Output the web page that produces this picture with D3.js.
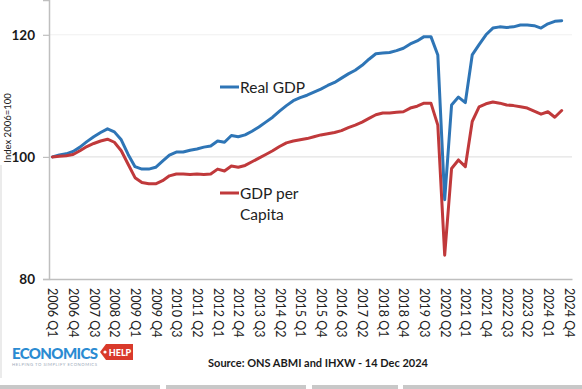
<!DOCTYPE html>
<html>
<head>
<meta charset="utf-8">
<script src="https://cdn.jsdelivr.net/npm/d3@7"></script>
<style>
  html, body { margin: 0; padding: 0; background: #ffffff; }
  svg { display: block; }
</style>
</head>
<body>
<svg id="chart" width="582" height="389"></svg>
<script>
// ---------- DATA ----------
const quarters = [
  "2006 Q1","2006 Q2","2006 Q3","2006 Q4","2007 Q1","2007 Q2","2007 Q3","2007 Q4",
  "2008 Q1","2008 Q2","2008 Q3","2008 Q4","2009 Q1","2009 Q2","2009 Q3","2009 Q4",
  "2010 Q1","2010 Q2","2010 Q3","2010 Q4","2011 Q1","2011 Q2","2011 Q3","2011 Q4",
  "2012 Q1","2012 Q2","2012 Q3","2012 Q4","2013 Q1","2013 Q2","2013 Q3","2013 Q4",
  "2014 Q1","2014 Q2","2014 Q3","2014 Q4","2015 Q1","2015 Q2","2015 Q3","2015 Q4",
  "2016 Q1","2016 Q2","2016 Q3","2016 Q4","2017 Q1","2017 Q2","2017 Q3","2017 Q4",
  "2018 Q1","2018 Q2","2018 Q3","2018 Q4","2019 Q1","2019 Q2","2019 Q3","2019 Q4",
  "2020 Q1","2020 Q2","2020 Q3","2020 Q4","2021 Q1","2021 Q2","2021 Q3","2021 Q4",
  "2022 Q1","2022 Q2","2022 Q3","2022 Q4","2023 Q1","2023 Q2","2023 Q3","2023 Q4",
  "2024 Q1","2024 Q2","2024 Q3","2024 Q4"
];

const tickLabels = [
  "2006 Q1","2006 Q4","2007 Q3","2008 Q2","2009 Q1","2009 Q4","2010 Q3","2011 Q2",
  "2012 Q1","2012 Q4","2013 Q3","2014 Q2","2015 Q1","2015 Q4","2016 Q3","2017 Q2",
  "2018 Q1","2018 Q4","2019 Q3","2020 Q2","2021 Q1","2021 Q4","2022 Q3","2023 Q2",
  "2024 Q1","2024 Q4"
];

const yTicks = [80, 100, 120];

// Real GDP index (2006 Q1 = 100), 2006 Q1 .. 2024 Q3
const realGDP = [
  100.0, 100.3, 100.5, 100.9, 101.6, 102.5, 103.3, 104.0,
  104.6, 104.1, 102.8, 100.4, 98.4, 98.0, 98.0, 98.3,
  99.3, 100.3, 100.8, 100.8, 101.1, 101.3, 101.6, 101.8,
  102.6, 102.4, 103.5, 103.3, 103.6, 104.2, 104.9, 105.7,
  106.5, 107.5, 108.4, 109.2, 109.7, 110.1, 110.6, 111.1,
  111.7, 112.2, 112.9, 113.6, 114.2, 115.0, 116.0, 116.9,
  117.0, 117.1, 117.4, 117.8, 118.5, 119.0, 119.7, 119.7,
  116.7, 93.0, 108.5, 109.8, 108.9, 116.7, 118.4, 120.0,
  121.1, 121.3, 121.2, 121.3, 121.6, 121.6, 121.5, 121.1,
  121.8, 122.2, 122.3
];

// GDP per capita index (2006 Q1 = 100), 2006 Q1 .. 2024 Q3
const gdpPerCapita = [
  100.0, 100.1, 100.2, 100.4, 101.0, 101.7, 102.2, 102.6,
  102.9, 102.4, 101.0, 98.8, 96.6, 95.8, 95.6, 95.6,
  96.1, 96.9, 97.2, 97.2, 97.1, 97.2, 97.1, 97.2,
  98.0, 97.7, 98.5, 98.3, 98.6, 99.2, 99.8, 100.4,
  101.0, 101.7, 102.3, 102.6, 102.8, 103.0, 103.3, 103.6,
  103.8, 104.0, 104.3, 104.8, 105.2, 105.7, 106.3, 106.9,
  107.2, 107.2, 107.3, 107.4, 108.0, 108.3, 108.8, 108.8,
  105.2, 83.9, 98.1, 99.5, 98.4, 105.8, 108.2, 108.7,
  109.0, 108.8, 108.5, 108.4, 108.2, 108.0, 107.5, 107.0,
  107.4, 106.5, 107.6
];

const seriesNames = ["Real GDP", "GDP per capita"];
const seriesColors = ["#2e75b6", "#c0393b"];

// ---------- CHART ----------
const svg = d3.select("#chart");
const FONT = "Lato, 'Open Sans', 'DejaVu Sans', sans-serif";

const plot = { left: 49, right: 572, top: 0, bottom: 279 };

const x = d3.scalePoint()
  .domain(quarters)
  .range([plot.left, plot.right])
  .padding(0.5);

const y = d3.scaleLinear()
  .domain([80, 125.7])
  .range([plot.bottom, plot.top]);

// gridlines
svg.append("g")
  .selectAll("line")
  .data([100, 120])
  .join("line")
  .attr("x1", plot.left).attr("x2", plot.right)
  .attr("y1", d => y(d)).attr("y2", d => y(d))
  .attr("stroke", d => d === 100 ? "#dcdcdc" : "#f0f0f0")
  .attr("stroke-width", 1);

// y axis
const yAxis = svg.append("g")
  .attr("transform", `translate(${plot.left},0)`)
  .call(d3.axisLeft(y).tickValues(yTicks).tickSize(6).tickPadding(8).tickFormat(d3.format("d")));
yAxis.select(".domain").attr("stroke", "#bfbfbf").attr("stroke-width", 1.5);
yAxis.selectAll(".tick line").attr("stroke", "#bfbfbf").attr("stroke-width", 1.2);
yAxis.selectAll(".tick text")
  .attr("font-family", FONT)
  .attr("font-size", 13.5)
  .attr("font-weight", 700)
  .attr("fill", "#1a1a1a");

// x axis
const xAxis = svg.append("g")
  .attr("transform", `translate(0,${plot.bottom})`)
  .call(d3.axisBottom(x).tickValues(tickLabels).tickSize(0).tickPadding(0));
xAxis.select(".domain").attr("stroke", "#bfbfbf").attr("stroke-width", 1.5);
xAxis.selectAll(".tick text")
  .attr("font-family", FONT)
  .attr("font-size", 12.5)
  .attr("fill", "#222")
  .attr("text-anchor", "start")
  .attr("transform", "rotate(90)")
  .attr("x", 9)
  .attr("y", 0)
  .attr("dy", "0.36em");

// y axis title
svg.append("text")
  .attr("transform", `translate(11,128) rotate(-90)`)
  .attr("text-anchor", "middle")
  .attr("font-family", FONT)
  .attr("font-size", 9.5)
  .attr("fill", "#222")
  .text("Index 2006=100");

// lines
const line = d3.line()
  .x((d, i) => x(quarters[i]))
  .y(d => y(d));

[realGDP, gdpPerCapita].forEach((s, k) => {
  svg.append("path")
    .datum(s)
    .attr("fill", "none")
    .attr("stroke", seriesColors[k])
    .attr("stroke-width", 3)
    .attr("stroke-linejoin", "round")
    .attr("stroke-linecap", "round")
    .attr("d", line);
});

// inline legend labels
const legendItems = [
  { lines: ["Real GDP"], cx: 220, cy: 87, color: seriesColors[0] },
  { lines: ["GDP per", "Capita"], cx: 220, cy: 193, color: seriesColors[1] }
];
legendItems.forEach(it => {
  svg.append("line")
    .attr("x1", it.cx).attr("x2", it.cx + 19)
    .attr("y1", it.cy).attr("y2", it.cy)
    .attr("stroke", it.color).attr("stroke-width", 3);
  it.lines.forEach((t, j) => {
    svg.append("text")
      .attr("x", it.cx + 20)
      .attr("y", it.cy + 5.5 + j * 21)
      .attr("font-family", FONT)
      .attr("font-size", 15.5)
      .attr("fill", "#222")
      .text(t);
  });
});

// source note
svg.append("text")
  .attr("x", 318)
  .attr("y", 367)
  .attr("text-anchor", "middle")
  .attr("font-family", FONT)
  .attr("font-size", 11)
  .attr("font-weight", 700)
  .attr("fill", "#1a1a1a")
  .text("Source: ONS ABMI and IHXW - 14 Dec 2024");

// logo
const logo = svg.append("g");
logo.append("text")
  .attr("x", 12).attr("y", 359)
  .attr("font-family", FONT)
  .attr("font-size", 15)
  .attr("font-weight", 900)
  .attr("fill", "#2b8bd2")
  .attr("textLength", 86)
  .text("ECONOMICS");
logo.append("path")
  .attr("d", "M100,352 L106,344 L133,344 L133,360 L106,360 Z")
  .attr("fill", "#d93a2b");
logo.append("circle")
  .attr("cx", 105).attr("cy", 352).attr("r", 1.6).attr("fill", "#fff");
logo.append("text")
  .attr("x", 120).attr("y", 355.5)
  .attr("text-anchor", "middle")
  .attr("font-family", FONT)
  .attr("font-size", 9)
  .attr("font-weight", 900)
  .attr("fill", "#fff")
  .text("HELP");
logo.append("text")
  .attr("x", 12).attr("y", 366)
  .attr("font-family", FONT)
  .attr("font-size", 4.2)
  .attr("fill", "#9aa8b8")
  .attr("textLength", 85)
  .text("HELPING TO SIMPLIFY ECONOMICS");

// frame decorations
svg.append("line")
  .attr("x1", 1).attr("x2", 1).attr("y1", 165).attr("y2", 378)
  .attr("stroke", "#e4e4e4").attr("stroke-width", 1.5);
svg.append("g")
  .selectAll("rect")
  .data([[0, 160], [166, 306], [312, 398], [403, 582]])
  .join("rect")
  .attr("x", d => d[0]).attr("width", d => d[1] - d[0])
  .attr("y", 385).attr("height", 4)
  .attr("fill", "#c8c8c8");
</script>
</body>
</html>
